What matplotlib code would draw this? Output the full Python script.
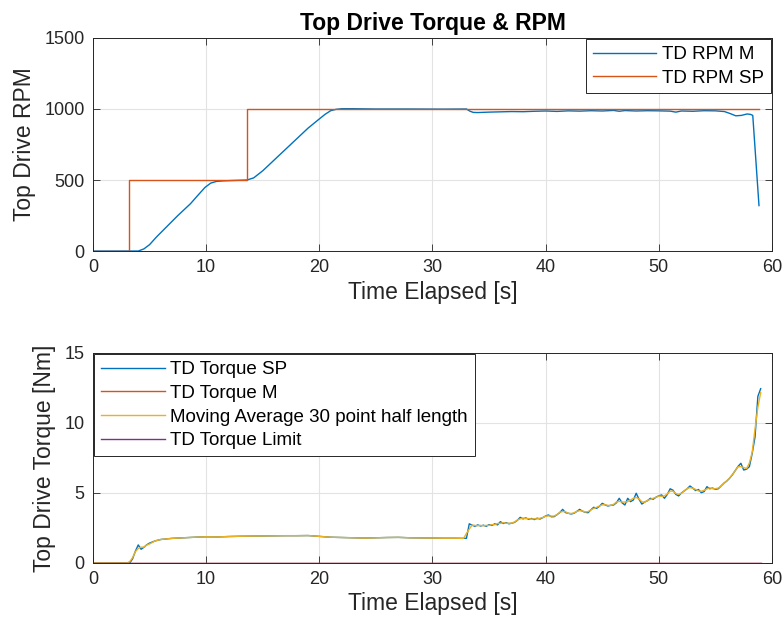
import numpy as np
import matplotlib
matplotlib.use('Agg')
import matplotlib.pyplot as plt

plt.rcParams['font.family'] = ['Liberation Sans', 'DejaVu Sans']

# --- RPM data ---
rpm_sp_t = [0, 3.2, 3.2, 13.65, 13.65, 58.85]
rpm_sp = [0, 0, 500, 500, 1000, 1000]

rpm_m_t = [0, 4.0, 4.5, 5.0, 5.6, 6.5, 7.5, 8.6, 9.3, 9.9, 10.4, 10.9, 11.5, 12.5,
           13.6, 14.2, 15.0, 16.0, 17.0, 18.0, 19.0, 20.0, 20.5, 21.0, 21.5, 22.0,
           23.0, 25.0, 28.0, 31.0, 33.0, 33.3, 33.6, 34.0, 35.0, 36.0, 37.0, 38.0,
           39.0, 40.0, 41.0, 42.0, 43.0, 44.0, 45.0, 46.0, 46.5, 47.0, 48.0, 49.0,
           50.0, 51.0, 51.5, 52.0, 53.0, 54.0, 55.0, 55.8, 56.3, 56.8, 57.3, 57.8,
           58.1, 58.3, 58.85]
rpm_m = [0, 0, 15, 45, 98, 170, 250, 332, 395, 448, 478, 490, 494, 497,
         500, 515, 565, 640, 715, 790, 865, 930, 962, 988, 998, 1002,
         1002, 1000, 1000, 999, 1000, 985, 976, 975, 978, 980, 982, 981,
         984, 986, 983, 987, 985, 988, 986, 990, 984, 989, 986, 988,
         987, 985, 978, 986, 984, 988, 987, 982, 968, 952, 955, 965,
         962, 955, 320]

# --- Torque data ---
torque_t_early = [0, 3.0, 3.25, 3.5, 3.75, 4.0, 4.25, 4.5, 4.75, 5.0, 5.5, 6.0, 7.0,
                  8.0, 9.0, 10.0, 11.0, 12.0, 13.0, 14.0, 15.0, 16.0, 17.0, 18.0,
                  19.0, 20.0, 21.0, 22.0, 23.0, 24.0, 25.0, 26.0, 27.0, 28.0, 29.0,
                  30.0, 31.0, 32.0, 32.5, 32.75, 33.0]
torque_early = [0, 0, 0, 0.30, 0.85, 1.29, 0.98, 1.12, 1.30, 1.42, 1.58, 1.68, 1.76,
                1.80, 1.84, 1.87, 1.86, 1.89, 1.91, 1.92, 1.93, 1.94, 1.95, 1.95,
                1.96, 1.90, 1.84, 1.82, 1.80, 1.78, 1.80, 1.82, 1.83, 1.80, 1.79,
                1.78, 1.77, 1.77, 1.76, 1.76, 1.76]

# 0.25 s samples from 33.25 s to 58.75 s
torque_late = [2.80, 2.70, 2.62, 2.72,
               2.64, 2.70, 2.62, 2.74,
               2.68, 2.80, 2.72, 2.95,
               2.82, 2.88, 2.80, 2.84,
               2.90, 3.05, 3.26, 3.15,
               3.22, 3.12, 3.18, 3.10,
               3.20, 3.14, 3.24, 3.36,
               3.43, 3.30, 3.31, 3.45,
               3.60, 3.83, 3.60, 3.55,
               3.50, 3.55, 3.68, 3.83,
               3.70, 3.62, 3.59, 3.80,
               3.98, 3.90, 4.05, 4.26,
               4.15, 4.07, 4.12, 4.14,
               4.30, 4.62, 4.30, 4.14,
               4.62, 4.38, 4.50, 4.98,
               4.55, 4.21, 4.35, 4.45,
               4.62, 4.55, 4.70, 4.80,
               4.86, 4.62, 4.90, 5.30,
               5.20, 4.90, 4.79, 5.00,
               5.15, 5.30, 5.50, 5.35,
               5.17, 5.25, 5.02, 5.10,
               5.45, 5.30, 5.35, 5.26,
               5.30, 5.50, 5.70, 5.85,
               6.05, 6.30, 6.60, 6.90,
               7.12, 6.64, 6.70, 6.88,
               7.83, 9.00, 11.90, 12.45]

torque_t = np.array(torque_t_early + list(33.25 + 0.25 * np.arange(len(torque_late))))
torque_sp = np.array(torque_early + torque_late)
torque_m = np.zeros_like(torque_sp)
torque_limit = np.zeros_like(torque_sp)

# moving average over a short time window
half = 0.3
torque_avg = np.array([torque_sp[np.abs(torque_t - ti) <= half].mean() for ti in torque_t])

C1 = '#0072BD'
C2 = '#D95319'
C3 = '#EDB120'
C4 = '#7E2F8E'
AX = '#262626'


def style(ax, ylim, yticks, ylabel):
    ax.set_xlim(0, 60)
    ax.set_ylim(*ylim)
    ax.set_xticks([0, 10, 20, 30, 40, 50, 60])
    ax.set_yticks(yticks)
    ax.grid(True, color='#e3e3e3', linewidth=0.8)
    ax.set_axisbelow(True)
    ax.tick_params(direction='in', top=True, right=True, length=5, width=0.6,
                   colors=AX, labelsize=13, pad=6)
    for s in ax.spines.values():
        s.set_color(AX)
        s.set_linewidth(0.7)
    ax.set_xlabel('Time Elapsed [s]', fontsize=16.5, color=AX, labelpad=3)
    ax.set_ylabel(ylabel, fontsize=16.5, color=AX, labelpad=6)


def legend(ax, loc):
    leg = ax.legend(loc=loc, fontsize=13.5, frameon=True, fancybox=False,
                    framealpha=1, edgecolor=AX, borderaxespad=0.08, handlelength=3.4,
                    handletextpad=0.3, labelspacing=0.35, borderpad=0.35)
    leg.get_frame().set_linewidth(0.7)


fig = plt.figure(figsize=(7.84, 6.32), dpi=100)
ax1 = fig.add_axes([0.1186, 0.6028, 0.8661, 0.3371])
ax2 = fig.add_axes([0.1186, 0.1092, 0.8661, 0.3323])

ax1.plot(rpm_m_t, rpm_m, color=C1, lw=1.0, label='TD RPM M')
ax1.plot(rpm_sp_t, rpm_sp, color=C2, lw=1.0, label='TD RPM SP')
style(ax1, (0, 1500), [0, 500, 1000, 1500], 'Top Drive RPM')
ax1.set_title('Top Drive Torque & RPM', fontsize=16.5, fontweight='bold', pad=6)
legend(ax1, 'upper right')

ax2.plot(torque_t, torque_sp, color=C1, lw=1.0, label='TD Torque SP')
ax2.plot(torque_t, torque_m, color=C2, lw=1.0, label='TD Torque M')
ax2.plot(torque_t, torque_avg, color=C3, lw=1.0, label='Moving Average 30 point half length')
ax2.plot(torque_t, torque_limit, color=C4, lw=1.0, label='TD Torque Limit')
style(ax2, (0, 15), [0, 5, 10, 15], 'Top Drive Torque [Nm]')
legend(ax2, 'upper left')

fig.savefig('out.png', dpi=100)
